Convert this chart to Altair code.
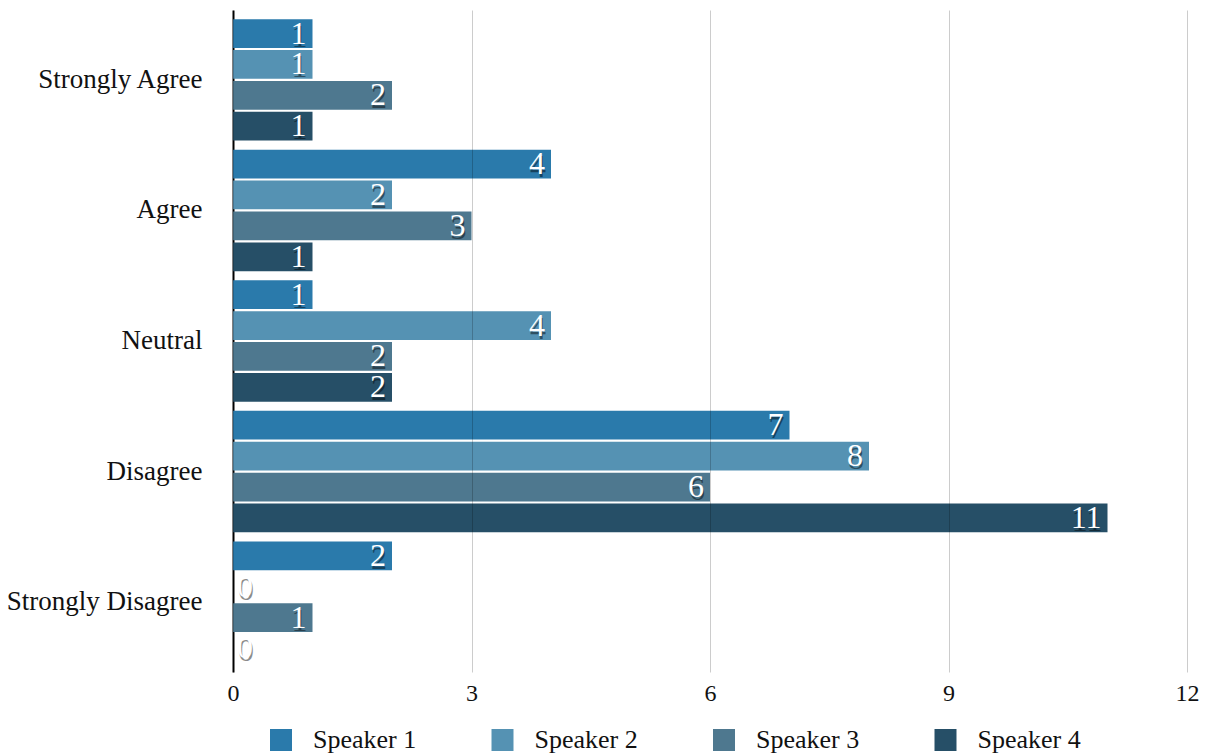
import altair as alt
import pandas as pd

# Survey responses per speaker
categories = ["Strongly Agree", "Agree", "Neutral", "Disagree", "Strongly Disagree"]
speakers = ["Speaker 1", "Speaker 2", "Speaker 3", "Speaker 4"]
speaker1 = [1, 4, 1, 7, 2]
speaker2 = [1, 2, 4, 8, 0]
speaker3 = [2, 3, 2, 6, 1]
speaker4 = [1, 1, 2, 11, 0]
x_ticks = [0, 3, 6, 9, 12]
colors = ["#2a7aab", "#5592b3", "#4e788f", "#264f67"]

rows = []
for name, vals in zip(speakers, [speaker1, speaker2, speaker3, speaker4]):
    for cat, v in zip(categories, vals):
        rows.append({"category": cat, "speaker": name, "count": v})
df = pd.DataFrame(rows)

FONT = "Liberation Serif"

y_axis = alt.Axis(
    title=None,
    labelFontSize=27,
    labelFont=FONT,
    labelColor="#111111",
    labelPadding=31,
    labelLimit=400,
    ticks=False,
    domainColor="#000000",
    domainWidth=2,
    grid=False,
)
x_axis = alt.Axis(
    title=None,
    values=x_ticks,
    format="d",
    labelFontSize=24,
    labelFont=FONT,
    labelColor="#111111",
    labelPadding=9,
    labelFlush=False,
    ticks=False,
    domain=False,
    grid=True,
    gridColor="#000000",
    gridOpacity=0.2,
    zindex=1,
)

y_scale = alt.Scale(paddingInner=0.07, paddingOuter=0.07)
x_scale = alt.Scale(domain=[0, 12], nice=False)
y_off = alt.YOffset("speaker:N", sort=speakers, scale=alt.Scale(paddingInner=0.07))

bars = alt.Chart(df).mark_bar().encode(
    x=alt.X("count:Q", scale=x_scale, axis=x_axis),
    y=alt.Y("category:N", sort=categories, scale=y_scale, axis=y_axis),
    yOffset=y_off,
    color=alt.Color(
        "speaker:N",
        sort=speakers,
        scale=alt.Scale(domain=speakers, range=colors),
        legend=alt.Legend(
            title=None,
            orient="none",
            legendX=35,
            legendY=717,
            direction="horizontal",
            columns=4,
            columnPadding=72.5,
            symbolType="square",
            symbolSize=484,
            symbolStrokeWidth=0,
            symbolOpacity=1,
            labelFontSize=26,
            labelFont=FONT,
            labelColor="#111111",
            labelOffset=19,
        ),
    ),
)

base_text = alt.Chart(df)


def value_labels(data_filter, align, dx):
    common = dict(
        x=alt.X("count:Q", scale=x_scale, axis=x_axis),
        y=alt.Y("category:N", sort=categories, scale=y_scale, axis=y_axis),
        yOffset=y_off,
        text="count:Q",
    )
    shadow = base_text.transform_filter(data_filter).mark_text(
        align=align, baseline="middle", dx=dx + 1, dy=3,
        font=FONT, fontSize=32, color="#000000", opacity=0.45,
    ).encode(**common)
    front = base_text.transform_filter(data_filter).mark_text(
        align=align, baseline="middle", dx=dx,
        font=FONT, fontSize=32, color="#ffffff",
    ).encode(**common)
    return shadow + front


labels_pos = value_labels(alt.datum.count > 0, "right", -6)
labels_zero = value_labels(alt.datum.count == 0, "left", 4)

chart = (
    alt.layer(bars, labels_pos, labels_zero)
    .properties(
        width=954,
        height=662,
        background="#ffffff",
        autosize=alt.AutoSizeParams(type="none"),
        padding={"left": 233, "top": 10, "right": 18, "bottom": 81},
    )
    .configure_view(stroke="transparent", strokeWidth=0)
)

chart.save("out.html", embed_options={"renderer": "svg", "actions": False})
